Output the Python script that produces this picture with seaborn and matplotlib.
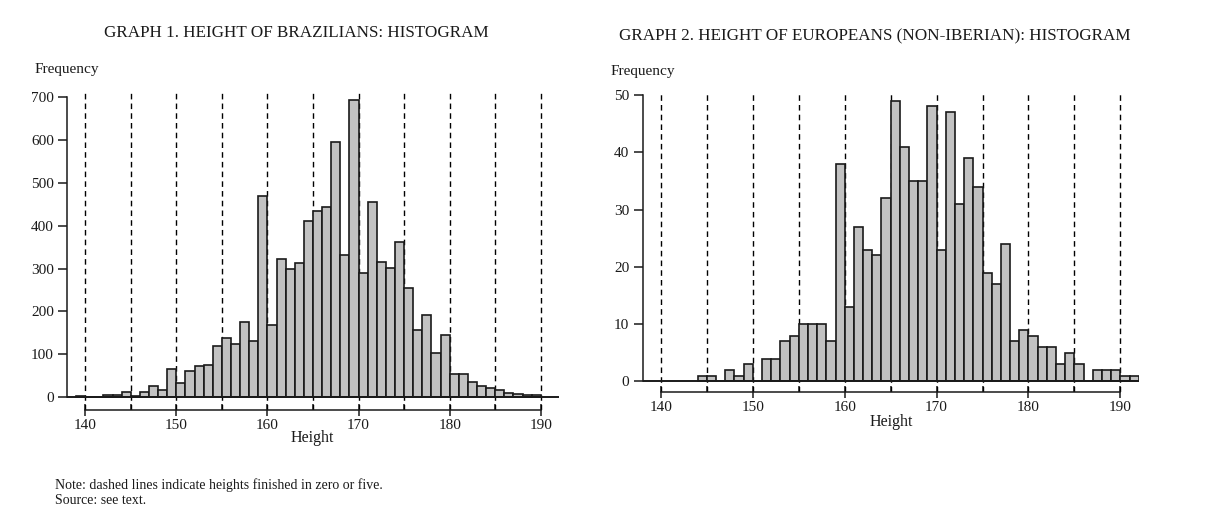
import numpy as np
import pandas as pd
import matplotlib
matplotlib.use("Agg")
import matplotlib.pyplot as plt
import seaborn as sns

# Height (cm, lower bin edge) and frequency
br_heights = list(range(139, 190))
br_counts = [3, 0, 1, 5, 5, 11, 3, 12, 25, 16,
             65, 33, 62, 72, 76, 120, 139, 125, 175, 130,
             469, 168, 323, 298, 312, 412, 435, 443, 596, 332,
             692, 290, 454, 315, 301, 361, 255, 156, 191, 104,
             144, 55, 55, 35, 26, 22, 17, 10, 8, 6,
             5]

eu_heights = list(range(144, 192))
eu_counts = [1, 1, 0, 2, 1, 3, 0, 4, 4, 7,
             8, 10, 10, 10, 7, 38, 13, 27, 23, 22,
             32, 49, 41, 35, 35, 48, 23, 47, 31, 39,
             34, 19, 17, 24, 7, 9, 8, 6, 6, 3,
             5, 3, 0, 2, 2, 2, 1, 1]

dash_marks = [140, 145, 150, 155, 160, 165, 170, 175, 180, 185, 190]
x_ticks = [140, 150, 160, 170, 180, 190]

sns.set_style("ticks")
plt.rcParams["font.family"] = ["Liberation Serif", "DejaVu Serif"]
plt.rcParams["axes.linewidth"] = 1.1

W, H = 1211, 520
fig = plt.figure(figsize=(W / 100, H / 100), dpi=100)
INK = "#1a1a1a"


def px(x, y):
    return x / W, 1 - y / H


def draw(ax, heights, counts, ymax, ystep, ylim):
    df = pd.DataFrame({"Height": heights, "Frequency": counts})
    edges = heights + [heights[-1] + 1]
    for d in dash_marks:
        ax.axvline(d, color="black", lw=1.0, ls=(0, (4, 3)), zorder=1)
    sns.histplot(data=df, x="Height", weights="Frequency", bins=edges,
                 color="#c2c2c2", alpha=1, edgecolor=INK,
                 linewidth=1.2, ax=ax)
    # bars on top of the dashed guide lines
    for p in ax.patches:
        p.set_zorder(2)
    ax.axhline(0, color=INK, lw=1.4, zorder=3)
    ax.set_xlim(138, 192)
    ax.set_ylim(*ylim)
    ax.set_xticks(x_ticks)
    ax.set_xticks(dash_marks, minor=True)
    ax.set_yticks(list(range(0, ymax + 1, ystep)))
    ax.tick_params(axis="x", which="major", direction="inout", length=9,
                   width=1.1, labelsize=11, pad=2, colors=INK)
    ax.tick_params(axis="x", which="minor", direction="in", length=4,
                   width=1.1, colors=INK)
    ax.tick_params(axis="y", length=6.5, width=1.1, labelsize=11, pad=3,
                   colors=INK)
    for s in ("left", "bottom"):
        ax.spines[s].set_color(INK)
    ax.spines["top"].set_visible(False)
    ax.spines["right"].set_visible(False)
    ax.spines["left"].set_bounds(0, ymax)
    ax.spines["bottom"].set_bounds(140, 190)
    ax.set_xlabel("")
    ax.set_ylabel("")


ax1 = fig.add_axes([67 / W, 1 - 410 / H, (559 - 67) / W, (410 - 90.6) / H])
draw(ax1, br_heights, br_counts, 700, 100, (-30, 715))

ax2 = fig.add_axes([642.6 / W, 1 - 392.3 / H, (1138.7 - 642.6) / W, (392.3 - 93.3) / H])
draw(ax2, eu_heights, eu_counts, 50, 10, (-1.9, 50.3))

fig.text(*px(296, 33), "GRAPH 1. HEIGHT OF BRAZILIANS: HISTOGRAM",
         ha="center", va="center", fontsize=12.3, color=INK)
fig.text(*px(875, 36), "GRAPH 2. HEIGHT OF EUROPEANS (NON-IBERIAN): HISTOGRAM",
         ha="center", va="center", fontsize=12.3, color=INK)
fig.text(*px(35, 69), "Frequency", ha="left", va="center", fontsize=11, color=INK)
fig.text(*px(611, 71), "Frequency", ha="left", va="center", fontsize=11, color=INK)
fig.text(*px(312, 438), "Height", ha="center", va="center", fontsize=11.5, color=INK)
fig.text(*px(891, 422), "Height", ha="center", va="center", fontsize=11.5, color=INK)
fig.text(*px(55, 485), "Note: dashed lines indicate heights finished in zero or five.",
         ha="left", va="center", fontsize=10, color=INK)
fig.text(*px(55, 501), "Source: see text.", ha="left", va="center", fontsize=10,
         color=INK)

fig.savefig("out.png", dpi=100)
